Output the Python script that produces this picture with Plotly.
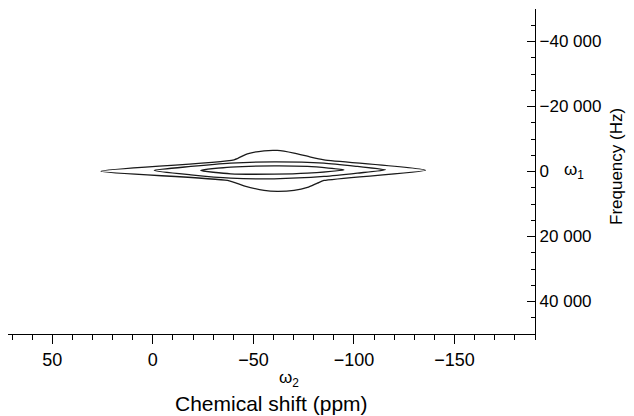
import plotly.graph_objects as go

# Contour outlines: chemical shift (ppm) vs frequency (Hz)
outer_ppm = [25.8, -40.4, -47.0, -55.3, -61.9, -70.2, -78.5, -85.1, -135.6,
             -85.1, -81.8, -76.9, -70.2, -61.9, -55.3, -45.3, -37.1, 25.8]
outer_hz = [-100, -3600, -5450, -6370, -6470, -5650, -4420, -3600, -400,
            2760, 3580, 4910, 5840, 6140, 5840, 4400, 2760, -100]

middle_ppm = [-0.7, -18.9, -38.7, -60.3, -85.1, -101.7, -115.7,
              -101.7, -85.1, -60.3, -38.7, -18.9, -0.7]
middle_hz = [-320, -1550, -2580, -2980, -2580, -1550, -520,
             500, 1530, 2250, 2040, 1015, -320]

inner_ppm = [-23.8, -38.7, -60.3, -76.9, -95.1, -76.9, -60.3, -38.7, -23.8]
inner_hz = [-320, -1340, -1750, -1550, -520, 500, 810, 710, -320]

x_tickvals = [50, 0, -50, -100, -150]
x_ticktext = ["50", "0", "\u221250", "\u2212100", "\u2212150"]
y_tickvals = [-40000, -20000, 0, 20000, 40000]
y_ticktext = ["\u221240 000", "\u221220 000", "0", "20 000", "40 000"]

FONT = "Liberation Sans, Arial, sans-serif"

fig = go.Figure()
for xs, ys in [(outer_ppm, outer_hz), (middle_ppm, middle_hz), (inner_ppm, inner_hz)]:
    fig.add_trace(go.Scatter(x=xs, y=ys, mode="lines",
                             line=dict(color="#1a1a1a", width=1.3, shape="spline", smoothing=0.6),
                             showlegend=False, hoverinfo="skip"))

# page body has an 8px margin: figure pixel = reference pixel - 8
OFF = 8
W, H = 634 - OFF, 416 - OFF
ml, mr, mt, mb = 0, 99, 1, 82
pw, ph = W - ml - mr, H - mt - mb

def px(x):
    return (x - OFF - ml) / pw

def py(y):
    return (H - mb - (y - OFF)) / ph

fig.update_layout(
    width=W, height=H,
    margin=dict(l=ml, r=mr, t=mt, b=mb),
    paper_bgcolor="white", plot_bgcolor="white",
    font=dict(family=FONT, size=17, color="black"),
    xaxis=dict(range=[72, -190], tickvals=x_tickvals, ticktext=x_ticktext,
               ticks="outside", ticklen=9, tickwidth=1, tickcolor="black",
               showline=True, linecolor="black", linewidth=1.3,
               showgrid=False, zeroline=False, automargin=False,
               minor=dict(tick0=0, dtick=10, ticks="outside", ticklen=5,
                          tickwidth=1, tickcolor="black", showgrid=False),
               tickfont=dict(size=18)),
    yaxis=dict(range=[50000, -50000], side="right", tickvals=y_tickvals, ticktext=y_ticktext,
               ticks="inside", ticklen=8, tickwidth=1, tickcolor="black",
               showline=True, linecolor="black", linewidth=1.3,
               showgrid=False, zeroline=False, automargin=False,
               minor=dict(tick0=0, dtick=5000, ticks="inside", ticklen=4,
                          tickwidth=1, tickcolor="black", showgrid=False),
               tickfont=dict(size=17)),
    annotations=[
        dict(text="\u03c9<sub>2</sub>", x=px(289), y=py(379), xref="paper", yref="paper",
             showarrow=False, xanchor="center", yanchor="middle", font=dict(size=17)),
        dict(text="Chemical shift (ppm)", x=px(271), y=py(403), xref="paper", yref="paper",
             showarrow=False, xanchor="center", yanchor="middle", font=dict(size=21)),
        dict(text="Frequency (Hz)", x=px(616), y=py(167), xref="paper", yref="paper",
             showarrow=False, xanchor="center", yanchor="middle", textangle=-90,
             font=dict(size=17)),
        dict(text="\u03c9<sub>1</sub>", x=px(574), y=py(171), xref="paper", yref="paper",
             showarrow=False, xanchor="center", yanchor="middle", font=dict(size=17)),
    ],
)

fig.write_html("out.html")
